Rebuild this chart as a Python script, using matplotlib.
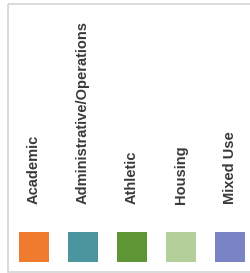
import matplotlib
matplotlib.use("Agg")
import matplotlib.pyplot as plt
from matplotlib.patches import Rectangle

categories = ["Academic", "Administrative/Operations", "Athletic", "Housing", "Mixed Use"]
colors = ["#EE7B2E", "#4A959E", "#5E9535", "#B4CF9A", "#7A83C6"]

fig = plt.figure(figsize=(2.5, 2.73), dpi=100)
ax = fig.add_axes([0, 0, 1, 1])
ax.set_xlim(-34 / 49, 216 / 49)
ax.set_ylim(273, 0)
ax.axis("off")

# legend frame (runs off the right edge)
ax.add_patch(Rectangle((-26 / 49, 3.5), 260 / 49, 268, fill=False,
                       edgecolor="#d4d4d4", linewidth=1.2))

x = range(len(categories))
ax.bar(x, 30, width=30 / 49, bottom=232, color=colors)

for i, name in enumerate(categories):
    ax.text(i, 204, name, rotation=90, ha="center", va="bottom",
            fontsize=10.5, family=["Liberation Sans", "DejaVu Sans"],
            fontweight="bold", color="#3a3a3a")

fig.savefig("out.png", dpi=100)
